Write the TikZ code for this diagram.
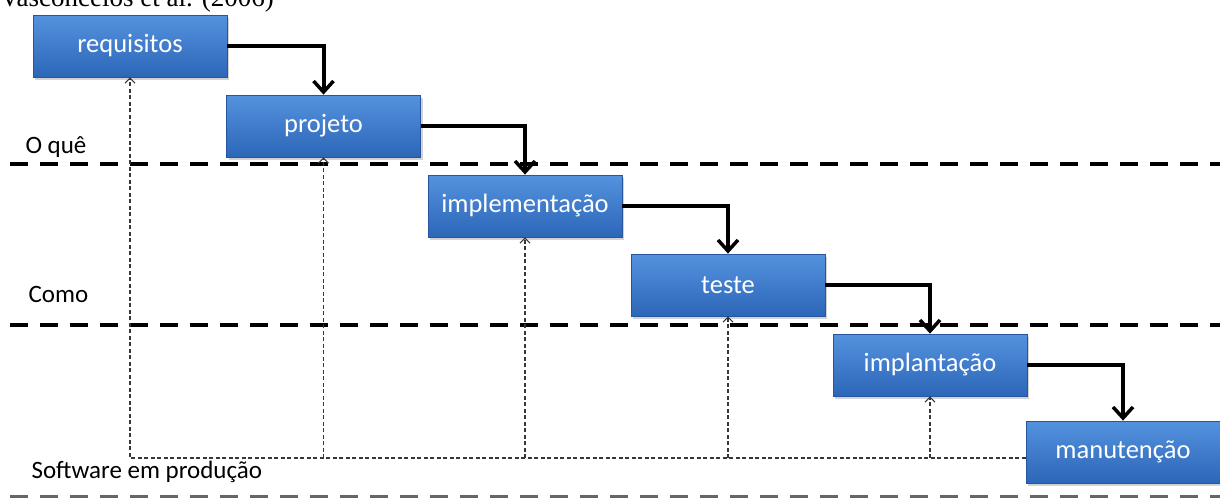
\documentclass[tikz,border=0pt]{standalone}
\usepackage{fontspec}
\setmainfont{Carlito}
\newfontfamily\citefont{Liberation Serif}
\usetikzlibrary{arrows.meta, shadows}
\definecolor{wfTop}{RGB}{84,146,222}
\definecolor{wfBottom}{RGB}{44,102,184}
\definecolor{wfEdge}{RGB}{38,86,160}
\definecolor{wfDots}{RGB}{55,55,55}

\begin{document}
\begin{tikzpicture}[
  x=1pt, y=-1pt,
  phase/.style={
    rectangle, draw=wfEdge, line width=0.8pt,
    top color=wfTop, bottom color=wfBottom,
    minimum width=194pt, minimum height=62pt, inner sep=0pt,
    text=white, font=\fontsize{26.5}{30}\selectfont,
    drop shadow={shadow xshift=2pt, shadow yshift=-2.5pt, opacity=0.35}
  },
  zone/.style={anchor=base west, font=\fontsize{25}{29}\selectfont},
  flow/.style={-{Straight Barb[length=11pt, width=20pt, line width=3.5pt]}, line width=4pt, draw=black},
  back/.style={-{Straight Barb[length=5pt, width=10pt, line width=1.1pt]}, line width=1.4pt, draw=wfDots, dash pattern=on 4pt off 2.5pt},
  divider/.style={line width=4.5pt, dash pattern=on 18pt off 12pt},
]
\useasboundingbox (0,0) rectangle (1220,501);

% --- Source reference, cut at the top ------------------------------------------
\node[anchor=base west, inner sep=0pt, font=\citefont\fontsize{27}{30}\selectfont] (cite) at (0,6) {Vasconcelos et al. (2006)};

% --- Phases, stepping down ----------------------------------------------------
\node[phase] (req)    at (130,46)   {requisitos};
\node[phase] (proj)   at (323.5,126) {projeto};
\node[phase] (impl)   at (525,206)  {implementação};
\node[phase] (teste)  at (728,285)  {teste};
\node[phase] (implan) at (930,365)  {implantação};
\node[phase] (manut)  at (1123,452) {manutenção};

% --- Zone separators and labels -------------------------------------------------
\draw[divider] (10,164) -- (1220,164);
\draw[divider] (10,325) -- (1220,325);
\draw[divider, line width=3pt, draw=black!60] (10,496) -- (1220,496);

\node[zone] (oque) at (22,153) {O quê};
\node[zone] (como) at (25,302) {Como};
\node[zone] (prod) at (28,478) {Software em produção};

% --- Waterfall arrows --------------------------------------------------------
\foreach \a/\b in {req/proj, proj/impl, impl/teste, teste/implan, implan/manut}
  \draw[flow] (\a.east) -| (\b.north);

% --- Feedback from production ----------------------------------------------
\coordinate (base) at (130,458);
\draw[back] (manut.west |- base) -- (base) -- (req.south);
\foreach \p in {proj, impl, teste, implan}
  \draw[back] (\p |- base) -- (\p.south);

\end{tikzpicture}
\end{document}
